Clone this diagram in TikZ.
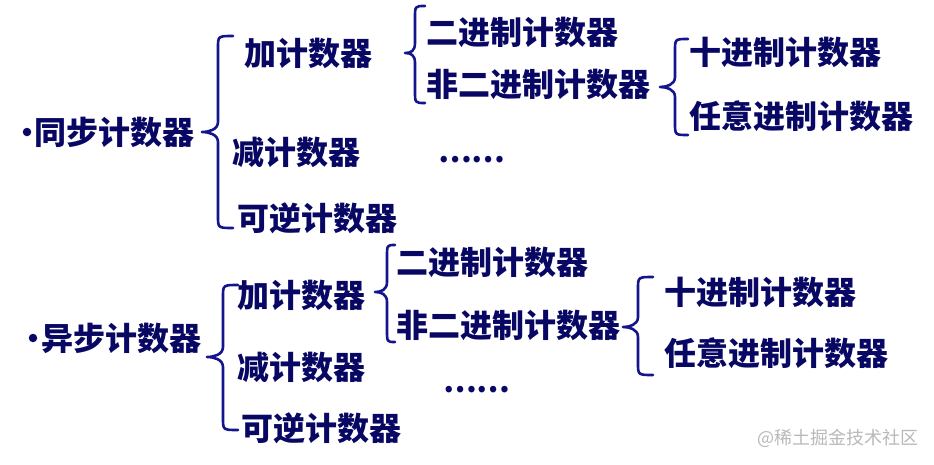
\documentclass[tikz,border=0pt]{standalone}
\usepackage{fontspec}
\newfontfamily\cjkb{Noto Sans CJK SC Black}
\newfontfamily\cjkr{Noto Sans CJK SC}
\definecolor{navytext}{RGB}{8,8,100}
\definecolor{navybrace}{RGB}{20,20,140}
\definecolor{wmgray}{RGB}{185,185,185}
\newcommand{\cbrace}[6]{% tipx tipy linex endx top bottom
  \draw[bracestyle] (#4,#5) .. controls (#3,#5) .. (#3,#5+12)
    -- (#3,#2-10) .. controls (#3,#2-2) and (#1+6,#2) .. (#1,#2)
    .. controls (#1+6,#2) and (#3,#2+2) .. (#3,#2+10)
    -- (#3,#6-12) .. controls (#3,#6) .. (#4,#6);}
\begin{document}
\begin{tikzpicture}[x=1pt,y=-1pt,
  lbl/.style={anchor=west,inner sep=0pt,text=navytext,font=\cjkb\fontsize{32}{32}\selectfont},
  dotsty/.style={anchor=west,inner sep=0pt,text=navytext,font=\cjkb\fontsize{30}{30}\selectfont},
  bulletdot/.style={circle,fill=navytext,inner sep=0pt,minimum size=8.5pt},
  bracestyle/.style={draw=navybrace,line width=2.6pt,line cap=round,line join=round},
  wm/.style={anchor=west,inner sep=0pt,text=wmgray,font=\cjkr\fontsize{18}{18}\selectfont}]
\useasboundingbox[fill=white] (0,0) rectangle (934,464);
% upper tree
\node[bulletdot] (bu1) at (27,132) {};
\node[lbl] (s1) at (34,132) {同步计数器};
\node[lbl] (a1) at (244,53) {加计数器};
\node[lbl] (d1) at (232,152) {减计数器};
\node[lbl] (r1) at (237,218) {可逆计数器};
\node[lbl] (b1) at (426,32) {二进制计数器};
\node[lbl] (n1) at (426,84) {非二进制计数器};
\node[dotsty] (e1) at (438,160) {……};
\node[lbl] (t1) at (689,52) {十进制计数器};
\node[lbl] (any1) at (689,116) {任意进制计数器};
\cbrace{202}{132}{218}{233}{36}{228}
\cbrace{405}{53}{415}{425}{6}{103}
\cbrace{660}{87}{675}{688}{39}{135}
% lower tree
\node[bulletdot] (bu2) at (33,338) {};
\node[lbl] (s2) at (41,338) {异步计数器};
\node[lbl] (a2) at (237,295) {加计数器};
\node[lbl] (d2) at (237,367) {减计数器};
\node[lbl] (r2) at (241,428) {可逆计数器};
\node[lbl] (b2) at (396,262) {二进制计数器};
\node[lbl] (n2) at (396,325) {非二进制计数器};
\node[dotsty] (e2) at (443,390) {……};
\node[lbl] (t2) at (664,292) {十进制计数器};
\node[lbl] (any2) at (664,353) {任意进制计数器};
\cbrace{207}{357}{223}{238}{285}{430}
\cbrace{375}{292}{387}{395}{245}{342}
\cbrace{623}{327}{638}{653}{277}{375}
% watermark
\node[wm] (wmk) at (757,438) {@稀土掘金技术社区};
\end{tikzpicture}
\end{document}
